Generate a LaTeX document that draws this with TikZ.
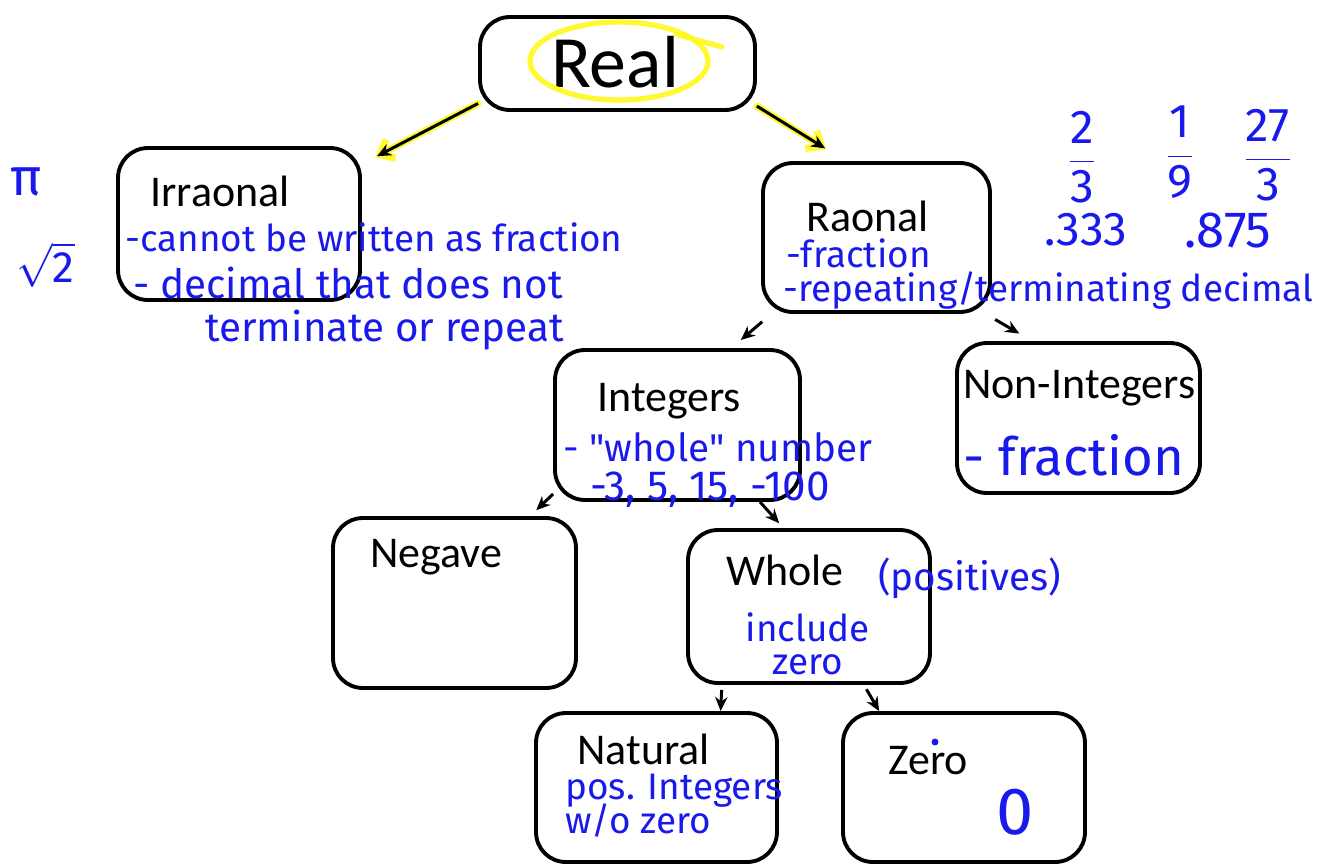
\documentclass[tikz,border=0pt]{standalone}
\usepackage{fontspec}
\setmainfont{Carlito}
\newfontfamily\handfont{Fira Sans}
\usetikzlibrary{arrows.meta}
\definecolor{handblue}{RGB}{25,25,235}
\definecolor{hiyellow}{RGB}{255,248,30}
\tikzset{
  box/.style={draw, line width=2.2pt, rounded corners=17pt, minimum width=4.84cm, minimum height=3cm, inner sep=0pt},
  title/.style={anchor=west, inner sep=0pt, font=\fontsize{25}{30}\selectfont},
  note/.style={anchor=west, inner sep=0pt, text=handblue, font=\handfont\fontsize{21}{18}\selectfont},
  bignote/.style={note, font=\handfont\fontsize{27}{30}\selectfont},
  link/.style={-{Stealth[length=8pt,width=7pt]}, line width=1.7pt},
  hilite/.style={draw=hiyellow, line width=3pt, line cap=round, opacity=0.9}
}
\begin{document}
\begin{tikzpicture}[x=0.02cm, y=-0.02cm]
  \useasboundingbox (0,0) rectangle (1326,867);

  \node[box, minimum width=5.5cm, minimum height=1.86cm] (real) at (617.5,63.5) {};
  \node[box, minimum height=3.04cm] (irr) at (239,224) {};
  \node[box, minimum width=4.54cm, minimum height=2.98cm] (rat) at (876.5,237.5) {};
  \node[box, minimum width=4.9cm] (integ) at (677.5,425) {};
  \node[box, minimum width=4.86cm] (nonint) at (1078.5,418) {};
  \node[box, minimum width=4.86cm, minimum height=3.4cm] (neg) at (454.5,603) {};
  \node[box, minimum height=3.06cm] (whole) at (809,606.5) {};
  \node[box, minimum width=4.82cm, minimum height=2.98cm] (nat) at (656.5,787.5) {};
  \node[box, minimum height=2.98cm] (zero) at (964,787.5) {};

  \node[anchor=center, inner sep=0pt, font=\fontsize{42}{48}\selectfont] (realT) at (615,62) {Real};
  \node[title] (irrT) at (150,191) {Irraonal};
  \node[title] (ratT) at (806,216) {Raonal};
  \node[title] (intT) at (597,401) {Integers};
  \node[title] (nonT) at (963,388) {Non-Integers};
  \node[title] (negT) at (370,557) {Negave};
  \node[title] (wholeT) at (726,570) {Whole};
  \node[title] (natT) at (577,749) {Natural};
  \node[title] (zeroT) at (888,761) {Zero};

  \draw[hilite] (619,61) ellipse (89 and 39);
  \draw[hilite] (676,34) -- (722,47);

  \draw[hilite, line width=4pt, -{Straight Barb[length=7pt,width=12pt]}, shorten >=0.3cm] (real.196) -- (irr.26);
  \draw[hilite, line width=4pt, -{Straight Barb[length=7pt,width=12pt]}, shorten >=0.46cm] (real.-17) -- (rat.112);
  \path[link] (real.196) edge[shorten >=0.34cm] (irr.26);
  \path[link] (real.-17) edge[shorten >=0.48cm] (rat.112);
  \path[link] (rat.216) edge[shorten <=0.24cm, shorten >=0.25cm] (integ.55);
  \path[link] (rat.-35) edge[shorten <=0.22cm, shorten >=0.3cm] (nonint.121);
  \path[link] (integ.209) edge[shorten >=0.17cm] (neg.49);
  \path[link] (integ.-43) edge[shorten >=0.13cm] (whole.108);
  \path[link] (whole.222) edge[shorten <=0.1cm] (nat.50);
  \path[link] (whole.-55) edge[shorten <=0.1cm] (zero.138);

  \node[bignote, font=\handfont\fontsize{30}{30}\selectfont] (pi) at (10,182) {π};
  \node[bignote, font=\handfont\fontsize{25}{30}\selectfont] (sqrt) at (16,265) {$\sqrt{\mbox{2}}$};
  \node[note] (irrA) at (125,237) {-cannot be written as fraction};
  \node[note, font=\handfont\fontsize{23}{24}\selectfont] (irrB) at (133,283) {- decimal that does not};
  \node[note, font=\handfont\fontsize{23}{24}\selectfont] (irrC) at (205,330) {terminate or repeat};

  \node[note] (ratA) at (786,253) {-fraction};
  \node[note] (ratB) at (783,291) {-repeating/terminating decimal};
  \node[bignote, anchor=center] (fracA) at (1082,157) {$\displaystyle\frac{\mbox{2}}{\mbox{3}}$};
  \node[bignote, anchor=center] (fracB) at (1180,152) {$\displaystyle\frac{\mbox{1}}{\mbox{9}}$};
  \node[bignote, anchor=center] (fracC) at (1268,155) {$\displaystyle\frac{\mbox{27}}{\mbox{3}}$};
  \node[bignote, anchor=center] (decA) at (1086,230) {.333};
  \node[bignote, anchor=center, font=\handfont\fontsize{29}{30}\selectfont] (decB) at (1228,230) {.875};

  \node[note, font=\handfont\fontsize{22}{24}\selectfont] (intA) at (563,447) {- "whole" number};
  \node[note, font=\handfont\fontsize{24}{26}\selectfont] (intB) at (590,490) {-3, 5, 15, -100};
  \node[bignote, font=\handfont\fontsize{30}{30}\selectfont] (nonA) at (963,455) {- fraction};

  \node[note, font=\handfont\fontsize{22}{24}\selectfont] (wholeA) at (878,578) {(positives)};
  \node[note, align=center, anchor=center] (wholeB) at (808,644) {include\\[1pt]zero};
  \node[note, align=left] (natA) at (565,806) {pos. Integers\\[-3pt]w/o zero};
  \node[circle, fill=handblue, inner sep=1.4pt] (dot) at (935,742) {};
  \node[bignote, anchor=center, font=\handfont\fontsize{38}{40}\selectfont] (zeroA) at (1015,812) {0};
\end{tikzpicture}
\end{document}
